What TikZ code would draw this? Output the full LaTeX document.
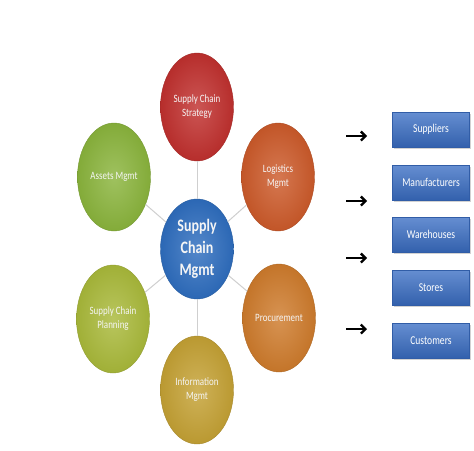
\documentclass[tikz,border=0pt]{standalone}
\usepackage{fontspec}
\setmainfont{Carlito}
\newfontfamily\tallfont[FakeStretch=0.8]{Carlito}
\usetikzlibrary{arrows.meta,shapes.geometric,shadows}
\definecolor{cred}{HTML}{C0302E}
\definecolor{cgreen}{HTML}{8AB43C}
\definecolor{clog}{HTML}{CC5A2A}
\definecolor{cplan}{HTML}{A9B93A}
\definecolor{cproc}{HTML}{CE7B2C}
\definecolor{cinfo}{HTML}{C4A134}
\definecolor{cblue}{HTML}{2E6DBE}
\definecolor{cbox}{HTML}{3A6EC4}
\definecolor{clink}{HTML}{CFCFCF}
\tikzset{
  bubble/.style={ellipse, minimum width=73pt, minimum height=108pt, inner sep=0pt,
    align=center, text=white!96!black, font=\tallfont\fontsize{11.2}{14}\selectfont,
    draw=#1!85!black, line width=0.4pt,
    inner color=#1!82!white, outer color=#1!95!black},
  hub/.style={bubble=cblue, font=\tallfont\bfseries\fontsize{17.5}{22}\selectfont, minimum height=100pt},
  rolebox/.style={rectangle, minimum width=77pt, minimum height=35pt, inner sep=0pt,
    text=white, font=\tallfont\fontsize{12}{14}\selectfont,
    top color=cbox!78!white, bottom color=cbox!88!black, draw=cbox!85!black, line width=0.3pt,
    drop shadow={opacity=0.35, shadow xshift=1pt, shadow yshift=-1.5pt}},
  link/.style={draw=clink, line width=1pt},
  pointer/.style={line width=2.3pt, -{Straight Barb[length=4.5pt,width=9pt]}}
}
\begin{document}
\begin{tikzpicture}[x=1pt,y=-1pt]
\useasboundingbox[fill=white] (0,0) rectangle (474,450);
% ring of bubbles
\node[hub] (scm) at (197,249) {Supply\\Chain\\Mgmt};
\node[bubble=cred]   (strat) at (197,107) {Supply Chain\\Strategy};
\node[bubble=cgreen] (asset) at (114,177) {Assets Mgmt};
\node[bubble=clog]   (logi)  at (278,177) {Logistics\\Mgmt};
\node[bubble=cplan]  (plan)  at (113,319) {Supply Chain\\Planning};
\node[bubble=cproc]  (proc)  at (279,318) {Procurement};
\node[bubble=cinfo]  (info)  at (197,390) {Information\\Mgmt};
% links
\path[link] (scm) -- (strat);
\path[link] (scm) -- (asset);
\path[link] (scm) -- (logi);
\path[link] (scm) -- (plan);
\path[link] (scm) -- (proc);
\path[link] (scm) -- (info);
% boxes
\node[rolebox] (sup) at (431,129.5) {Suppliers};
\node[rolebox] (man) at (431,182.5) {Manufacturers};
\node[rolebox] (war) at (431,234.5) {Warehouses};
\node[rolebox] (sto) at (431,287.5) {Stores};
\node[rolebox] (cus) at (431,340.5) {Customers};
% arrows
\coordinate (a1s) at (346,136); \coordinate (a1e) at (367,136);
\coordinate (a2s) at (346,201); \coordinate (a2e) at (367,201);
\coordinate (a3s) at (346,258); \coordinate (a3e) at (367,258);
\coordinate (a4s) at (346,329); \coordinate (a4e) at (367,329);
\draw[pointer] (a1s) -- (a1e);
\draw[pointer] (a2s) -- (a2e);
\draw[pointer] (a3s) -- (a3e);
\draw[pointer] (a4s) -- (a4e);
\end{tikzpicture}
\end{document}
